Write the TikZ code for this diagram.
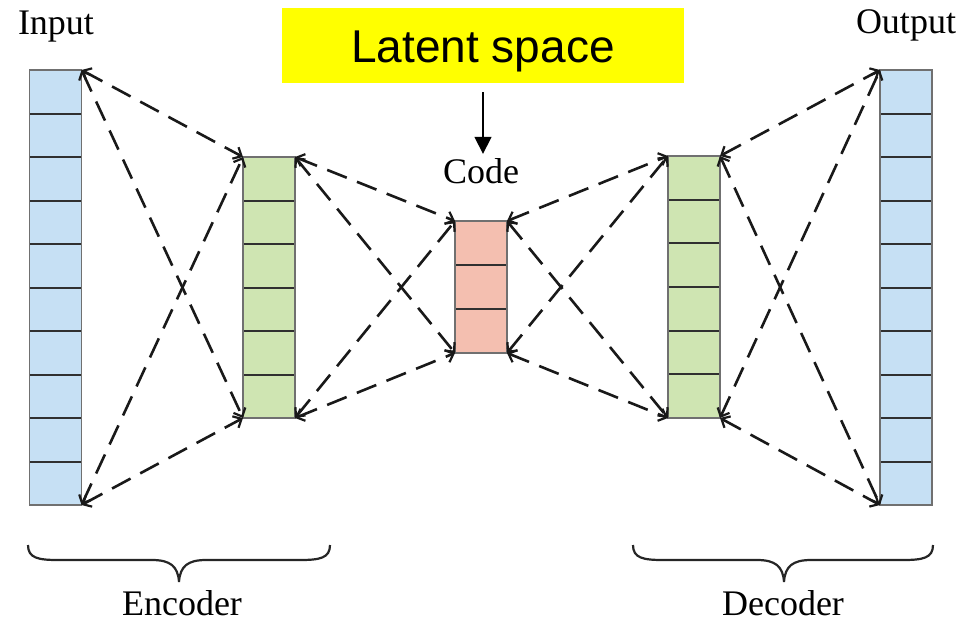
\documentclass[tikz,border=0pt]{standalone}
\usepackage{fontspec}
\setmainfont{Liberation Serif}
\newfontfamily\arialfont{Liberation Sans}
\usetikzlibrary{arrows.meta,calc}
\definecolor{inblue}{HTML}{C6E0F4}
\definecolor{hidgreen}{HTML}{CFE5B2}
\definecolor{codered}{HTML}{F4BFB0}
\definecolor{edgegray}{HTML}{707070}
\definecolor{sepgray}{HTML}{303030}
\definecolor{latentyellow}{HTML}{FFFF00}
\tikzset{
  col/.style={draw=edgegray, line width=1.5pt, minimum width=52pt, inner sep=0pt, outer sep=0pt},
  sep/.style={draw=sepgray, line width=2pt},
  conn/.style={draw=black!90, line width=2.6pt, dash pattern=on 21pt off 11pt,
    {Straight Barb[length=7pt,width=13pt,line width=2.2pt]}-{Straight Barb[length=7pt,width=13pt,line width=2.2pt]}},
  lbl/.style={font=\fontsize{36}{40}\selectfont, inner sep=0pt, anchor=base},
  brace/.style={draw=black!85, line width=2.2pt}
}
\begin{document}
\begin{tikzpicture}[x=1pt,y=-1pt]
\useasboundingbox (0,0) rectangle (967,622);
% columns
\node[col, fill=inblue, minimum height=435pt] (in) at (55.5,287.5) {};
\node[col, fill=hidgreen, minimum height=261pt] (h1) at (269,287.5) {};
\node[col, fill=codered, minimum height=132pt] (code) at (481,287) {};
\node[col, fill=hidgreen, minimum height=262pt] (h2) at (694,287) {};
\node[col, fill=inblue, minimum height=435pt] (out) at (906,287.5) {};
% cell separators
\foreach \i in {1,...,9} {
  \draw[sep] ($(in.north west)+(0,43.5*\i)$) -- ($(in.north east)+(0,43.5*\i)$);
  \draw[sep] ($(out.north west)+(0,43.5*\i)$) -- ($(out.north east)+(0,43.5*\i)$);
}
\foreach \i in {1,...,5} {
  \draw[sep] ($(h1.north west)+(0,43.5*\i)$) -- ($(h1.north east)+(0,43.5*\i)$);
  \draw[sep] ($(h2.north west)+(0,43.67*\i)$) -- ($(h2.north east)+(0,43.67*\i)$);
}
\foreach \i in {1,2} {
  \draw[sep] ($(code.north west)+(0,44*\i)$) -- ($(code.north east)+(0,44*\i)$);
}
% redraw outlines on top
\foreach \n in {in,out,h1,h2,code}
  \draw[edgegray, line width=1.5pt] (\n.north west) rectangle (\n.south east);
% connectors
\foreach \a in {in.north east, in.south east}
  \foreach \b in {h1.north west, h1.south west}
    \draw[conn] (\a) -- (\b);
\foreach \a in {h1.north east, h1.south east}
  \foreach \b in {code.north west, code.south west}
    \draw[conn] (\a) -- (\b);
\foreach \a in {code.north east, code.south east}
  \foreach \b in {h2.north west, h2.south west}
    \draw[conn] (\a) -- (\b);
\foreach \a in {h2.north east, h2.south east}
  \foreach \b in {out.north west, out.south west}
    \draw[conn] (\a) -- (\b);
% labels
\node[lbl] (inlbl) at (56,34) {Input};
\node[lbl] (outlbl) at (906,33) {Output};
\node[lbl] (codelbl) at (481,183) {Code};
\node[lbl] (enclbl) at (182,615) {Encoder};
\node[lbl] (declbl) at (783,615) {Decoder};
% latent space box
\node[fill=latentyellow, minimum width=402pt, minimum height=75pt, inner sep=0pt,
      text height=34pt, text depth=0pt,
      font=\arialfont\fontsize{46}{50}\selectfont] (latent) at (483,45.5) {Latent space};
\draw[line width=1.5pt, -{Triangle[length=17pt,width=17pt]}]
  ([yshift=-9pt]latent.south) -- ([yshift=4pt]codelbl.north -| latent.south);
% braces
\draw[brace] (28,545) .. controls (28,558) and (38,560) .. (58,560)
  -- (152,560) .. controls (170,560) and (178,566) .. (179,582)
  .. controls (180,566) and (188,560) .. (206,560)
  -- (300,560) .. controls (320,560) and (330,558) .. (330,545);
\draw[brace] (633,545) .. controls (633,558) and (643,560) .. (663,560)
  -- (757,560) .. controls (775,560) and (783,566) .. (784,582)
  .. controls (785,566) and (793,560) .. (811,560)
  -- (903,560) .. controls (923,560) and (933,558) .. (933,545);
\end{tikzpicture}
\end{document}
